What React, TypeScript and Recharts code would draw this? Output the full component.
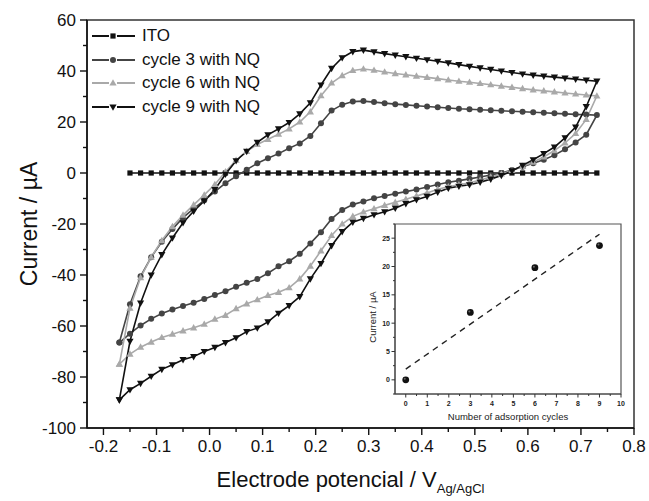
import React from 'react';
import {
  LineChart,
  ComposedChart,
  Line,
  Scatter,
  XAxis,
  YAxis,
  Legend,
  ReferenceArea,
} from 'recharts';

const FONT = '"Liberation Sans", Arial, Helvetica, sans-serif';

// potential grid, anodic sweep then cathodic sweep (V vs Ag/AgCl)
const potentialUp = [
  -0.17, -0.15, -0.13, -0.11, -0.09, -0.07, -0.05, -0.03, -0.01, 0.01, 0.03, 0.05, 0.07, 0.09, 0.11, 0.13,
  0.15, 0.17, 0.19, 0.21, 0.23, 0.25, 0.27, 0.29, 0.31, 0.33, 0.35, 0.37, 0.39, 0.41, 0.43, 0.45, 0.47,
  0.49, 0.51, 0.53, 0.55, 0.57, 0.59, 0.61, 0.63, 0.65, 0.67, 0.69, 0.71, 0.73,
];
const potentialDown = [
  0.71, 0.69, 0.67, 0.65, 0.63, 0.61, 0.59, 0.57, 0.55, 0.53, 0.51, 0.49, 0.47, 0.45, 0.43, 0.41, 0.39,
  0.37, 0.35, 0.33, 0.31, 0.29, 0.27, 0.25, 0.23, 0.21, 0.19, 0.17, 0.15, 0.13, 0.11, 0.09, 0.07, 0.05,
  0.03, 0.01, -0.01, -0.03, -0.05, -0.07, -0.09, -0.11, -0.13, -0.15, -0.17,
];

const itoPotential = [
  -0.15, -0.13, -0.11, -0.09, -0.07, -0.05, -0.03, -0.01, 0.01, 0.03, 0.05, 0.07, 0.09, 0.11, 0.13, 0.15,
  0.17, 0.19, 0.21, 0.23, 0.25, 0.27, 0.29, 0.31, 0.33, 0.35, 0.37, 0.39, 0.41, 0.43, 0.45, 0.47, 0.49,
  0.51, 0.53, 0.55, 0.57, 0.59, 0.61, 0.63, 0.65, 0.67, 0.69, 0.71, 0.73,
];
const itoCurrent = [
  0, 0, 0, 0, 0, 0, 0, 0, 0, 0, 0, 0, 0, 0, 0, 0, 0, 0, 0, 0, 0, 0, 0, 0, 0, 0, 0, 0, 0, 0, 0, 0, 0, 0, 0,
  0, 0, 0, 0, 0, 0, 0, 0, 0, 0,
];

// current in µA
const cycle3Up = [
  -66.5, -51.5, -40.5, -33, -27, -22, -17.5, -14, -10.7, -7.3, -4, -1.3, 1.3, 3.8, 5.8, 7.6, 9.7, 11.6,
  14.5, 19.5, 24.5, 26.8, 28, 28.2, 27.8, 27.4, 27, 26.7, 26.4, 26.1, 25.8, 25.5, 25.2, 25, 24.8, 24.6,
  24.4, 24.2, 24, 23.8, 23.6, 23.4, 23.2, 23, 22.9, 22.7,
];
const cycle3Down = [
  15, 12, 9.3, 7, 5.2, 3.8, 2.5, 1.2, 0, -0.8, -1.6, -2.3, -3, -3.6, -4.5, -5.5, -6.5, -7.3, -8.1, -9,
  -9.9, -11.2, -12.4, -14.5, -18, -23.2, -27.6, -31.7, -34.6, -36.6, -39.3, -41.6, -43, -44.6, -46.4,
  -47.8, -49.4, -50.9, -52.2, -53.5, -55.1, -57.2, -59.8, -63, -66.5,
];
const cycle6Up = [
  -75, -53, -41, -33, -26.5, -21, -16.5, -12.5, -8.6, -4.5, 0.5, 5, 8.5, 11.2, 13.2, 15.2, 17.3, 20, 24,
  30.3, 35.3, 38.2, 40.2, 40.8, 40.3, 39.6, 39, 38.5, 38, 37.5, 37, 36.5, 36, 35.6, 35.1, 34.6, 34.1,
  33.6, 33.1, 32.6, 32.2, 31.8, 31.4, 31, 30.6, 30.2,
];
const cycle6Down = [
  21, 15.5, 11.8, 8.8, 6.3, 4.3, 2.6, 1, -0.4, -1.6, -2.8, -3.8, -4.6, -5.4, -6.4, -7.8, -9, -10.3, -11.5,
  -12.7, -14, -15.3, -17, -20, -24.5, -30.5, -36.5, -41.5, -45, -46.8, -48, -49.7, -51.3, -53.2, -55.8,
  -57.3, -59.3, -60.7, -61.9, -63.2, -64.5, -66.3, -68.3, -71, -75,
];
const cycle9Up = [
  -89, -66, -51, -40, -32, -25.5, -19.5, -15, -11, -6.5, -0.5, 4.8, 8.5, 12, 15, 17.3, 19.8, 23.2, 27.5,
  34.5, 41, 45.2, 47.6, 48.2, 47.5, 46.8, 46.2, 45.6, 45, 44.4, 43.8, 43.2, 42.5, 41.8, 41.2, 40.6, 40,
  39.4, 38.8, 38.4, 38, 37.6, 37.2, 36.8, 36.4, 36,
];
const cycle9Down = [
  26, 18, 13.8, 10.2, 7.6, 5.2, 3, 0.8, -1, -2.4, -3.6, -4.6, -5.2, -6, -7.5, -9.2, -10.5, -12, -13.8,
  -15.2, -16.4, -17.8, -19.3, -23, -28.5, -35.5, -41.5, -48.5, -52, -55, -58.4, -60.8, -62.2, -64.6,
  -66.5, -68.4, -70, -72, -73.2, -75.2, -77, -79.7, -82.5, -85, -89,
];

const xTicks = [
  -0.2, -0.15, -0.1, -0.05, 0, 0.05, 0.1, 0.15, 0.2, 0.25, 0.3, 0.35, 0.4, 0.45, 0.5, 0.55, 0.6, 0.65, 0.7,
  0.75, 0.8,
];
const yTicks = [-100, -90, -80, -70, -60, -50, -40, -30, -20, -10, 0, 10, 20, 30, 40, 50, 60];

// inset: peak current vs number of adsorption cycles
const adsorptionCycles = [0, 3, 6, 9];
const peakCurrent = [0, 11.9, 19.8, 23.7];
const fitCycles = [0, 9];
const fitCurrent = [1.9, 25.7];
const insetXTicks = [
  0, 0.5, 1, 1.5, 2, 2.5, 3, 3.5, 4, 4.5, 5, 5.5, 6, 6.5, 7, 7.5, 8, 8.5, 9, 9.5, 10,
];
const insetYTicks = [-2.5, 0, 2.5, 5, 7.5, 10, 12.5, 15, 17.5, 20, 22.5, 25, 27.5];

type Kind = 'square' | 'circle' | 'up' | 'down';

const sweep = (up: number[], down: number[]) => [
  ...potentialUp.map((v, k) => ({ v, i: up[k] })),
  ...potentialDown.map((v, k) => ({ v, i: down[k] })),
];

const series = [
  { name: 'ITO', color: '#111111', kind: 'square' as Kind, data: itoPotential.map((v, k) => ({ v, i: itoCurrent[k] })) },
  { name: 'cycle 3 with NQ', color: '#444444', kind: 'circle' as Kind, data: sweep(cycle3Up, cycle3Down) },
  { name: 'cycle 6 with NQ', color: '#a9a9a9', kind: 'up' as Kind, data: sweep(cycle6Up, cycle6Down) },
  { name: 'cycle 9 with NQ', color: '#111111', kind: 'down' as Kind, data: sweep(cycle9Up, cycle9Down) },
];

function Marker({ kind, cx, cy, color }: { kind: Kind; cx: number; cy: number; color: string }) {
  if (kind === 'square') return <rect x={cx - 2.6} y={cy - 2.6} width={5.2} height={5.2} fill={color} />;
  if (kind === 'circle') return <circle cx={cx} cy={cy} r={3} fill={color} />;
  if (kind === 'up')
    return <path d={`M${cx},${cy - 3.8}L${cx + 3.6},${cy + 2.6}L${cx - 3.6},${cy + 2.6}Z`} fill={color} />;
  return <path d={`M${cx},${cy + 3.8}L${cx + 3.6},${cy - 2.6}L${cx - 3.6},${cy - 2.6}Z`} fill={color} />;
}

const isMajorX = (v: number) => Math.abs(v * 10 - Math.round(v * 10)) < 1e-6;

function PotentialTick(props: any) {
  const { x, y, payload } = props;
  const v = payload.value as number;
  const major = isMajorX(v);
  return (
    <g>
      <line x1={x} x2={x} y1={y} y2={y + (major ? 7 : 4)} stroke="#111" strokeWidth={1.4} />
      {major && (
        <text x={x} y={y + 24} textAnchor="middle" fontSize={17} fontFamily={FONT} fill="#111">
          {v.toFixed(1)}
        </text>
      )}
    </g>
  );
}

function CurrentTick(props: any) {
  const { x, y, payload } = props;
  const v = payload.value as number;
  const major = v % 20 === 0;
  return (
    <g>
      <line x1={x} x2={x - (major ? 7 : 4)} y1={y} y2={y} stroke="#111" strokeWidth={1.4} />
      {major && (
        <text x={x - 11} y={y + 6} textAnchor="end" fontSize={17} fontFamily={FONT} fill="#111">
          {v}
        </text>
      )}
    </g>
  );
}

function XTitle(props: any) {
  const vb = props.viewBox || { x: 87, y: 428, width: 547 };
  return (
    <text x={vb.x + vb.width / 2 - 10} y={vb.y + 59} textAnchor="middle" fontSize={22} fontFamily={FONT} fill="#111">
      Electrode potencial / V
      <tspan fontSize={13} dy={6}>
        Ag/AgCl
      </tspan>
    </text>
  );
}

function YTitle(props: any) {
  const vb = props.viewBox || { x: 0, y: 20, width: 87, height: 408 };
  const cx = vb.x + 29;
  const cy = vb.y + vb.height / 2;
  return (
    <text
      x={cx}
      y={cy}
      transform={`rotate(-90 ${cx} ${cy})`}
      textAnchor="middle"
      dominantBaseline="central"
      fontSize={23}
      fontFamily={FONT}
      fill="#111"
    >
      Current / µA
    </text>
  );
}

function CvLegend() {
  return (
    <div style={{ fontFamily: FONT, fontSize: 17, color: '#111' }}>
      {series.map((s) => (
        <div key={s.name} style={{ display: 'flex', alignItems: 'center', height: 23.7 }}>
          <svg width={46} height={12} style={{ marginRight: 5 }}>
            <line x1={1} x2={18} y1={6} y2={6} stroke={s.color} strokeWidth={2} />
            <line x1={26} x2={44} y1={6} y2={6} stroke={s.color} strokeWidth={2} />
            <Marker kind={s.kind} cx={22} cy={6} color={s.color} />
          </svg>
          <span>{s.name}</span>
        </div>
      ))}
    </div>
  );
}

function InsetXTick(props: any) {
  const { x, y, payload } = props;
  const v = payload.value as number;
  const major = Number.isInteger(v);
  return (
    <g>
      <line x1={x} x2={x} y1={y} y2={y + (major ? 3.5 : 2)} stroke="#333" strokeWidth={1} />
      {major && (
        <text x={x} y={y + 11.5} textAnchor="middle" fontSize={7} fontWeight="bold" fontFamily={FONT} fill="#222">
          {v}
        </text>
      )}
    </g>
  );
}

function InsetYTick(props: any) {
  const { x, y, payload } = props;
  const v = payload.value as number;
  const major = v % 5 === 0;
  return (
    <g>
      <line x1={x} x2={x - (major ? 3.5 : 2)} y1={y} y2={y} stroke="#333" strokeWidth={1} />
      {major && (
        <text x={x - 5} y={y + 2.5} textAnchor="end" fontSize={7} fontWeight="bold" fontFamily={FONT} fill="#222">
          {v}
        </text>
      )}
    </g>
  );
}

function InsetXTitle(props: any) {
  const vb = props.viewBox || { x: 45, y: 179, width: 226 };
  return (
    <text x={vb.x + vb.width / 2} y={vb.y + 26} textAnchor="middle" fontSize={9.5} fontFamily={FONT} fill="#222">
      Number of adsorption cycles
    </text>
  );
}

function InsetYTitle(props: any) {
  const vb = props.viewBox || { x: 0, y: 9, width: 45, height: 170 };
  const cx = vb.x + 22.5;
  const cy = vb.y + vb.height / 2 + 8;
  return (
    <text
      x={cx}
      y={cy}
      transform={`rotate(-90 ${cx} ${cy})`}
      textAnchor="middle"
      dominantBaseline="central"
      fontSize={9.5}
      fontFamily={FONT}
      fill="#222"
    >
      Current / µA
    </text>
  );
}

function Ball(props: any) {
  const { cx, cy } = props;
  return (
    <g>
      <circle cx={cx} cy={cy} r={3.4} fill="#111" />
      <circle cx={cx - 1} cy={cy - 1} r={1} fill="#666" />
    </g>
  );
}

export default function App() {
  const insetPoints = adsorptionCycles.map((n, k) => ({ n, c: peakCurrent[k] }));
  const insetFit = fitCycles.map((n, k) => ({ n, c: fitCurrent[k] }));

  return (
    <div style={{ position: 'absolute', left: 0, top: 0, width: 649, height: 501, background: '#fff' }}>
      <LineChart width={649} height={501} margin={{ top: 20, right: 15, bottom: 0, left: 0 }}>
        <XAxis
          type="number"
          dataKey="v"
          domain={[-0.231, 0.8]}
          ticks={xTicks}
          interval={0}
          allowDataOverflow
          height={73}
          tickSize={0}
          tickMargin={0}
          tickLine={false}
          axisLine={{ stroke: '#111', strokeWidth: 1.5 }}
          tick={PotentialTick}
          label={<XTitle />}
        />
        <YAxis
          type="number"
          domain={[-100, 60]}
          ticks={yTicks}
          interval={0}
          allowDataOverflow
          width={87}
          tickSize={0}
          tickMargin={0}
          tickLine={false}
          axisLine={{ stroke: '#111', strokeWidth: 1.5 }}
          tick={CurrentTick}
          label={<YTitle />}
        />
        <ReferenceArea x1={-0.231} x2={0.8} y1={-100} y2={60} fill="none" stroke="#333" strokeWidth={1.5} />
        {series.map((s) => (
          <Line
            key={s.name}
            data={s.data}
            dataKey="i"
            name={s.name}
            stroke={s.color}
            strokeWidth={1.6}
            isAnimationActive={false}
            activeDot={false}
            dot={(p: any) => <Marker key={`${s.name}-${p.index}`} kind={s.kind} cx={p.cx} cy={p.cy} color={s.color} />}
          />
        ))}
        <Legend
          layout="vertical"
          align="center"
          verticalAlign="middle"
          content={<CvLegend />}
          wrapperStyle={{ left: 91, top: 24, width: 220 }}
        />
      </LineChart>

      <div style={{ position: 'absolute', left: 350, top: 215 }}>
        <ComposedChart width={280} height={220} margin={{ top: 9, right: 9, bottom: 0, left: 0 }}>
          <XAxis
            type="number"
            dataKey="n"
            domain={[-0.5, 10]}
            ticks={insetXTicks}
            interval={0}
            allowDataOverflow
            height={41}
            tickSize={0}
            tickMargin={0}
            tickLine={false}
            axisLine={{ stroke: '#444' }}
            tick={InsetXTick}
            label={<InsetXTitle />}
          />
          <YAxis
            type="number"
            dataKey="c"
            domain={[-2.5, 27.5]}
            ticks={insetYTicks}
            interval={0}
            allowDataOverflow
            width={45}
            tickSize={0}
            tickMargin={0}
            tickLine={false}
            axisLine={{ stroke: '#444' }}
            tick={InsetYTick}
            label={<InsetYTitle />}
          />
          <ReferenceArea x1={-0.5} x2={10} y1={-2.5} y2={27.5} fill="none" stroke="#555" strokeWidth={1.2} />
          <Line
            data={insetFit}
            dataKey="c"
            stroke="#222"
            strokeWidth={1.4}
            strokeDasharray="6 5"
            dot={false}
            activeDot={false}
            isAnimationActive={false}
          />
          <Scatter data={insetPoints} dataKey="c" fill="#111" shape={Ball} isAnimationActive={false} />
        </ComposedChart>
      </div>
    </div>
  );
}
